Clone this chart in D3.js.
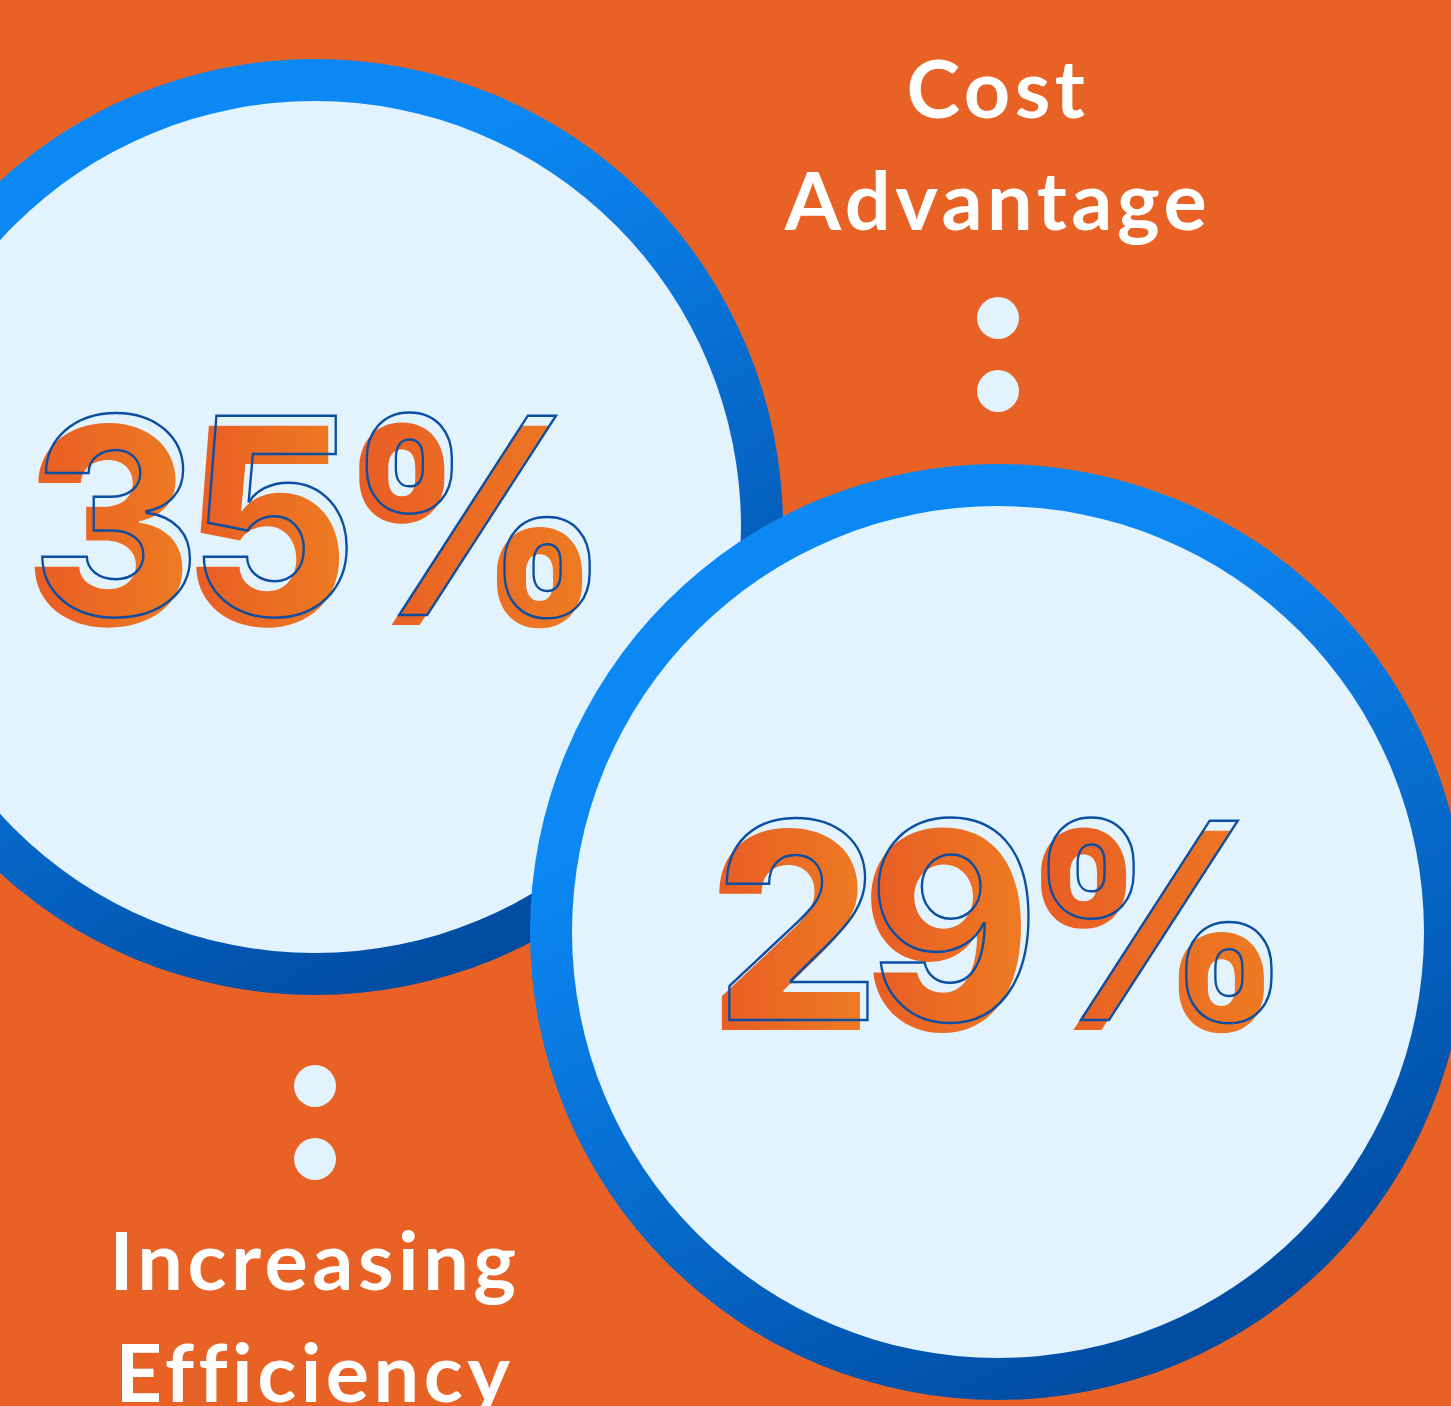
<!DOCTYPE html>
<html lang="en">
<head>
<meta charset="UTF-8">
<title>Stats</title>
<style>
  html, body { margin: 0; padding: 0; background: #E86226; overflow: hidden; }
  #chart { width: 1451px; height: 1406px; }
</style>
</head>
<body>
<div id="chart"></div>
<script src="https://d3js.org/d3.v7.min.js"></script>
<script>
// data
const values = [35, 29];
const labels = [["Increasing", "Efficiency"], ["Cost", "Advantage"]];
const labelSide = ["below", "above"];

function draw() {
  const width = 1451, height = 1406;
  const outerR = 468, innerR = 426;

  // layout: circle centres
  const cx = d3.scaleOrdinal().domain(values).range([315, 998]);
  const cy = d3.scaleOrdinal().domain(values).range([527, 932]);

  const svg = d3.select("#chart").append("svg")
    .attr("width", width)
    .attr("height", height)
    .attr("viewBox", [0, 0, width, height]);

  const defs = svg.append("defs");
  const ring = defs.append("linearGradient")
    .attr("id", "ring")
    .attr("x1", 0.35).attr("y1", 0.25).attr("x2", 0.75).attr("y2", 1);
  ring.append("stop").attr("offset", "0%").attr("stop-color", "#0B88F4");
  ring.append("stop").attr("offset", "100%").attr("stop-color", "#00469A");

  const glyph = defs.append("linearGradient")
    .attr("id", "glyph")
    .attr("x1", 0).attr("y1", 0).attr("x2", 1).attr("y2", 0);
  glyph.append("stop").attr("offset", "0%").attr("stop-color", "#E85B25");
  glyph.append("stop").attr("offset", "100%").attr("stop-color", "#EE7D22");

  svg.append("rect").attr("width", width).attr("height", height).attr("fill", "#E86226");

  const g = svg.selectAll("g.stat")
    .data(values)
    .join("g")
    .attr("class", "stat")
    .attr("transform", d => `translate(${cx(d)},${cy(d)})`);

  g.append("circle").attr("r", outerR).attr("fill", "url(#ring)");
  g.append("circle").attr("r", innerR).attr("fill", "#E2F3FE");

  // big numbers, each glyph gets its own gradient box
  const bigFont = "'Inter', sans-serif";
  const bigSize = 274;
  const bigWeight = 800;
  const bigSpacing = -12;
  g.each(function(d) {
    const str = d + "%";
    const node = d3.select(this).append("g")
      .attr("transform", "translate(6,0) scale(0.94,1)");
    const probe = node.append("text")
      .attr("font-family", bigFont).attr("font-size", bigSize).attr("font-weight", bigWeight)
      .text(str);
    const adv = str.split("").map((c, i) => probe.node().getSubStringLength(0, i) + i * bigSpacing);
    const total = probe.node().getComputedTextLength() + (str.length - 1) * bigSpacing;
    probe.remove();

    const chars = str.split("").map((c, i) => ({c, x: adv[i] - total / 2}));
    const baseY = 88;
    const text = (sel) => sel
      .attr("x", e => e.x).attr("y", baseY)
      .attr("font-family", bigFont).attr("font-size", bigSize).attr("font-weight", bigWeight)
      .text(e => e.c);
    node.append("g")
      .attr("transform", "translate(-8,10)")
      .selectAll("text")
      .data(chars)
      .join("text")
      .call(text)
      .attr("fill", "url(#glyph)");
    node.append("g")
      .selectAll("text")
      .data(chars)
      .join("text")
      .call(text)
      .attr("fill", "none")
      .attr("stroke", "#0B4EA2")
      .attr("stroke-width", 2.5);
  });

  // dots and labels
  const lineH = 112;
  g.each(function(d, i) {
    const node = d3.select(this);
    const above = labelSide[i] === "above";
    const dots = above ? [-614, -541] : [559, 632];
    node.selectAll("circle.dot")
      .data(dots)
      .join("circle")
      .attr("class", "dot")
      .attr("cy", y => y)
      .attr("r", 21)
      .attr("fill", "#E2F3FE");
    const first = above ? -814 : 763;
    node.selectAll("text.label")
      .data(labels[i])
      .join("text")
      .attr("class", "label")
      .attr("text-anchor", "middle")
      .attr("y", (t, j) => first + j * lineH)
      .attr("font-family", "'Lato', sans-serif")
      .attr("font-size", 81)
      .attr("font-weight", 700)
      .attr("letter-spacing", 4.5)
      .attr("fill", "#ffffff")
      .text(t => t);
  });
}

document.addEventListener("DOMContentLoaded", draw);
</script>
</body>
</html>
